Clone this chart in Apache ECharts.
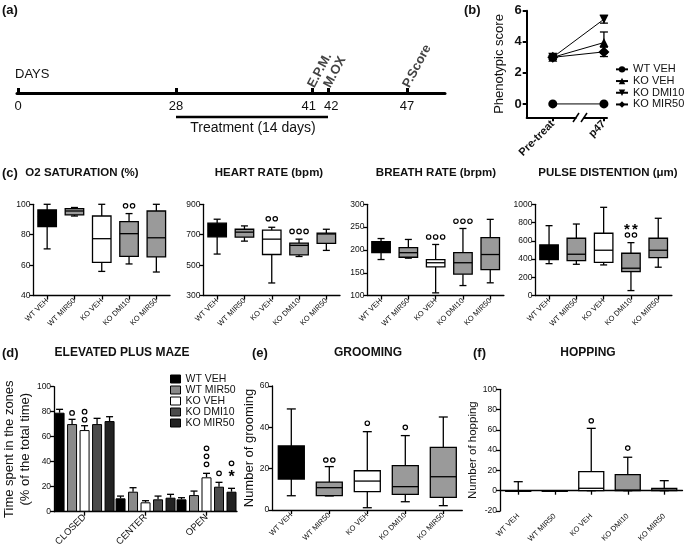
<!DOCTYPE html>
<html><head><meta charset="utf-8">
<script src="https://cdn.jsdelivr.net/npm/echarts@6/dist/echarts.min.js"></script>
<style>html,body{margin:0;padding:0;background:#fff}#c{width:685px;height:550px}</style>
</head><body><div id="c"></div>
<script>
// ================= DATA =================
const groups = ['WT VEH', 'WT MIR50', 'KO VEH', 'KO DMI10', 'KO MIR50'];

// (a) timeline
const timelineDays = [0, 28, 41, 42, 47];
const timelineEvents = ['E.P.M.', 'M.OX', 'P.Score'];
const timelineEventDays = [41, 42, 47];
const treatmentDays = [28, 42];
const treatmentText = 'Treatment (14 days)';

// (b) phenotypic score
const phenoTimes = ['Pre-treat', 'p47'];
const phenoGroups = ['WT VEH', 'KO VEH', 'KO DMI10', 'KO MIR50'];
const phenoWTVEH = [0, 0];
const phenoKOVEH = [3, 3.95];
const phenoKODMI10 = [3, 5.45];
const phenoKOMIR50 = [3, 3.35];
const phenoSemWTVEH = [0, 0];
const phenoSemKOVEH = [0.12, 0.68];
const phenoSemKODMI10 = [0.12, 0.25];
const phenoSemKOMIR50 = [0.12, 0.3];

// (c) box plots: [min, q1, median, q3, max] per group
const o2Stats = [[70.7, 85.3, 92, 96.3, 100], [92.3, 93, 95.6, 97.2, 97.9], [55.9, 61.9, 77.4, 92.3, 100], [60.8, 65.8, 80.7, 88.6, 93.9], [55.5, 65.4, 78, 95.6, 100]];
const heartStats = [[573, 686, 730, 776, 802], [658, 684, 717, 736, 758], [383, 570, 671, 730, 749], [557, 568, 630, 645, 671], [597, 643, 705, 711, 736]];
const breathStats = [[179, 194, 205, 218, 225], [182, 184, 194, 205, 223], [106, 163, 172, 179, 212], [122, 147, 172, 194, 247], [128, 157, 190, 227, 267]];
const pulseStats = [[350, 394, 460, 555, 766], [343, 383, 453, 628, 784], [336, 365, 497, 683, 967], [55, 263, 300, 464, 580], [311, 416, 497, 628, 847]];
// significance marks: [groupIndex, value, count]
const o2Sig = [[3, 99, 2]];
const heartSig = [[2, 805, 2], [3, 722, 3]];
const breathSig = [[2, 228.5, 3], [3, 263, 3]];
const pulseSig = [[3, 664, 2]];
const pulseStars = [[3, 755, 2]];

// (d) elevated plus maze: mean and SEM per zone [CLOSED, CENTER, OPEN]
const epmZones = ['CLOSED', 'CENTER', 'OPEN'];
const epmWTVEH = [79.2, 10.7, 9.9];
const epmWTMIR50 = [70.1, 16, 13.3];
const epmKOVEH = [65.3, 7.5, 27.5];
const epmKODMI10 = [70.1, 9.9, 20];
const epmKOMIR50 = [72.5, 11.2, 16];
const epmSemWTVEH = [2.7, 1.8, 1.3];
const epmSemWTMIR50 = [3.8, 3.2, 3.2];
const epmSemKOVEH = [3.5, 1.3, 3.2];
const epmSemKODMI10 = [4.6, 2.6, 3.5];
const epmSemKOMIR50 = [3.5, 2.7, 2.7];
// [zoneIndex, groupIndex, value, count]
const epmCircles = [[0, 1, 79, 1], [0, 2, 80, 2], [2, 2, 50.7, 3], [2, 3, 30.7, 1], [2, 4, 38.7, 1]];
const epmStars = [[2, 4, 30, 1]];

// (e) grooming, (f) hopping
const groomStats = [[6.9, 15, 23, 31, 48.9], [6.8, 7, 10.8, 13.5, 21], [1.1, 8.9, 14, 19, 37.9], [4, 7.6, 11.3, 21.5, 36], [2.1, 6.1, 16.1, 30.3, 45]];
const hopStats = [[0, 0, 0, 0, 8.9], [0, 0, 0, 0, 0], [0, 0, 2.4, 18.8, 61.5], [0, 0, 0.7, 15.8, 33], [0, 0, 0.5, 2.3, 9.9]];
const groomSig = [[1, 24.2, 2], [2, 42, 1], [3, 40, 1]];
const hopSig = [[2, 69, 1], [3, 42, 1]];

// ================= STYLE / LAYOUT =================
const FONT = '"Liberation Sans", Arial, sans-serif';
const boxFill = ['#000000', '#9a9a9a', '#ffffff', '#9a9a9a', '#9a9a9a'];
const barFill = ['#000000', '#8a8a8a', '#ffffff', '#4b4b4b', '#222222'];
// schematic (non-linear) placement of the timeline ticks, px from axis start
const TL_PX = {0: 1, 28: 159, 41: 295, 42: 311, 47: 390};
const tl = d => TL_PX[d];

const chart = echarts.init(document.getElementById('c'), null, {renderer: 'canvas'});

const axLine = {show: true, lineStyle: {color: '#000', width: 1.3}};
const axTick = {show: true, length: 4, lineStyle: {color: '#000', width: 1.3}};
const plain = v => String(v);

function boxItem(boxW, capW) {
  return function (params, api) {
    const c = api.value(0);
    const p = [1, 2, 3, 4, 5].map(i => api.coord([c, api.value(i)]));
    const x = p[0][0];
    const y = p.map(q => q[1]);
    const st = {stroke: '#000', lineWidth: 1.3};
    return {type: 'group', children: [
      {type: 'line', shape: {x1: x, y1: y[3], x2: x, y2: y[4]}, style: st},
      {type: 'line', shape: {x1: x - capW / 2, y1: y[4], x2: x + capW / 2, y2: y[4]}, style: st},
      {type: 'line', shape: {x1: x, y1: y[1], x2: x, y2: y[0]}, style: st},
      {type: 'line', shape: {x1: x - capW / 2, y1: y[0], x2: x + capW / 2, y2: y[0]}, style: st},
      {type: 'rect', shape: {x: x - boxW / 2, y: y[3], width: boxW, height: Math.max(y[1] - y[3], 0.6)}, style: {fill: boxFill[c], stroke: '#000', lineWidth: 1.3}},
      {type: 'line', shape: {x1: x - boxW / 2, y1: y[2], x2: x + boxW / 2, y2: y[2]}, style: st}
    ]};
  };
}
function sigItem(params, api) {
  const c = api.value(0), v = api.value(1), n = api.value(2);
  const p = api.coord([c, v]);
  const ch = [];
  for (let k = 0; k < n; k++) {
    ch.push({type: 'circle', shape: {cx: p[0] + (k - (n - 1) / 2) * 7, cy: p[1], r: 2.2}, style: {fill: '#fff', stroke: '#000', lineWidth: 1.2}});
  }
  return {type: 'group', children: ch};
}
function starItem(params, api) {
  const c = api.value(0), v = api.value(1), n = api.value(2);
  const p = api.coord([c, v]);
  const ch = [];
  for (let k = 0; k < n; k++) {
    ch.push({type: 'text', x: p[0] + (k - (n - 1) / 2) * 8, y: p[1] + 3, style: {text: '*', fontSize: 15, fontWeight: 'bold', fontFamily: FONT, fill: '#000', align: 'center', verticalAlign: 'middle'}});
  }
  return {type: 'group', children: ch};
}
const BAR_PITCH = 12.5;
function epmErrItem(params, api) {
  const c = api.value(0), s = api.value(1), m = api.value(2), e = api.value(3);
  const p1 = api.coord([c, m]), p2 = api.coord([c, m + e]);
  const x = p1[0] + (s - 2) * BAR_PITCH;
  const st = {stroke: '#000', lineWidth: 1.3};
  return {type: 'group', children: [
    {type: 'line', shape: {x1: x, y1: p1[1], x2: x, y2: p2[1]}, style: st},
    {type: 'line', shape: {x1: x - 3.5, y1: p2[1], x2: x + 3.5, y2: p2[1]}, style: st}
  ]};
}
function epmSigItem(params, api) {
  const c = api.value(0), s = api.value(1), v = api.value(2), n = api.value(3);
  const p = api.coord([c, v]);
  const x = p[0] + (s - 2) * BAR_PITCH;
  const ch = [];
  for (let k = 0; k < n; k++) ch.push({type: 'circle', shape: {cx: x, cy: p[1] + k * 8, r: 2.3}, style: {fill: '#fff', stroke: '#000', lineWidth: 1.2}});
  return {type: 'group', children: ch};
}
function epmStarItem(params, api) {
  const c = api.value(0), s = api.value(1), v = api.value(2);
  const p = api.coord([c, v]);
  const x = p[0] + (s - 2) * BAR_PITCH;
  return {type: 'text', x: x, y: p[1] + 3, style: {text: '*', fontSize: 16, fontWeight: 'bold', fontFamily: FONT, fill: '#000', align: 'center', verticalAlign: 'middle'}};
}
function phenoErrItem(params, api) {
  const x = api.value(0), y = api.value(1), e = api.value(2);
  const a = api.coord([x, y + e]), b = api.coord([x, y - e]);
  const st = {stroke: '#000', lineWidth: 1.3};
  return {type: 'group', children: [
    {type: 'line', shape: {x1: a[0], y1: a[1], x2: b[0], y2: b[1]}, style: st},
    {type: 'line', shape: {x1: a[0] - 4, y1: a[1], x2: a[0] + 4, y2: a[1]}, style: st},
    {type: 'line', shape: {x1: b[0] - 4, y1: b[1], x2: b[0] + 4, y2: b[1]}, style: st}
  ]};
}
const boxData = stats => stats.map((s, i) => [i, ...s]);

// ----- grids -----
const grids = [
  {left: 17, top: 27, width: 428, height: 66},           // 0 timeline (axis at y=93)
  {left: 526.7, top: 10.7, width: 80.3, height: 106.6},  // 1 pheno
  {left: 33.5, top: 204.3, width: 136.5, height: 91.3},  // 2 O2
  {left: 203.5, top: 204.3, width: 136.5, height: 91.3}, // 3 heart
  {left: 367.4, top: 204.3, width: 136.5, height: 91.3}, // 4 breath
  {left: 535.4, top: 204.3, width: 136.5, height: 91.3}, // 5 pulse
  {left: 40, top: 386.7, width: 197, height: 125},       // 6 EPM
  {left: 272.3, top: 386, width: 190, height: 124},      // 7 grooming
  {left: 500, top: 389.3, width: 182.5, height: 121.7}   // 8 hopping
];

const catX = (gi, data, fs, extra) => Object.assign({
  type: 'category', gridIndex: gi, data: data, boundaryGap: true,
  axisLine: axLine, axisTick: Object.assign({}, axTick, {alignWithLabel: true}),
  axisLabel: {rotate: 45, fontSize: fs, color: '#111', margin: 4, fontFamily: FONT, interval: 0},
  splitLine: {show: false}
}, extra || {});
const valY = (gi, min, max, interval, fs, extra) => Object.assign({
  type: 'value', gridIndex: gi, min: min, max: max, interval: interval,
  axisLine: axLine, axisTick: axTick,
  axisLabel: {fontSize: fs, color: '#111', margin: 3, fontFamily: FONT, formatter: plain},
  splitLine: {show: false}
}, extra || {});

const tlTickVals = timelineDays.map(tl);
const tlLabel = v => {
  const d = timelineDays[tlTickVals.indexOf(v)];
  return d === 41 ? '41\u2002' : d === 42 ? '\u200242' : String(d);
};
const xAxes = [
  {type: 'value', gridIndex: 0, min: 0, max: 428, position: 'bottom',
    axisLine: {show: true, onZero: false, lineStyle: {color: '#000', width: 3}},
    axisTick: {show: true, inside: true, length: 5, customValues: tlTickVals, lineStyle: {color: '#000', width: 3}},
    axisLabel: {customValues: tlTickVals, fontSize: 13, color: '#111', margin: 7, fontFamily: FONT, formatter: tlLabel},
    splitLine: {show: false}},
  {type: 'value', gridIndex: 1, min: -0.51, max: 1.06,
    axisLine: {show: true, onZero: false, lineStyle: {color: '#000', width: 2}},
    axisTick: {show: true, length: 4, customValues: [0, 1], lineStyle: {color: '#000', width: 2}},
    axisLabel: {customValues: [0, 1], rotate: 45, fontSize: 11, fontWeight: 'bold', color: '#111', margin: 5, fontFamily: FONT,
      formatter: v => phenoTimes[v]},
    splitLine: {show: false}},
  catX(2, groups, 7.5), catX(3, groups, 7.5), catX(4, groups, 7.5), catX(5, groups, 7.5),
  catX(6, epmZones, 9.5),
  catX(7, groups, 7.5), catX(8, groups, 7.5)
];
const yAxes = [
  {type: 'value', gridIndex: 0, min: 0, max: 1, show: false},
  {type: 'value', gridIndex: 1, min: -0.86, max: 6,
    axisLine: {show: true, onZero: false, lineStyle: {color: '#000', width: 2}},
    axisTick: {show: true, length: 4, customValues: [0, 2, 4, 6], lineStyle: {color: '#000', width: 2}},
    axisLabel: {customValues: [0, 2, 4, 6], fontSize: 13, fontWeight: 'bold', color: '#111', margin: 5, fontFamily: FONT},
    splitLine: {show: false},
    name: 'Phenotypic score', nameLocation: 'middle', nameGap: 21, nameTextStyle: {fontSize: 13, color: '#111', fontFamily: FONT}},
  valY(2, 40, 100, 20, 8.5), valY(3, 300, 900, 200, 8.5), valY(4, 100, 300, 50, 8.5), valY(5, 0, 1000, 200, 8.5),
  valY(6, 0, 100, 20, 8.5, {name: 'Time spent in the zones\n(% of the total time)', nameLocation: 'middle', nameGap: 3,
    nameTextStyle: {fontSize: 13, lineHeight: 16, color: '#111', fontFamily: FONT}}),
  valY(7, 0, 60, 20, 8.5, {name: 'Number of grooming', nameLocation: 'middle', nameGap: 9,
    nameTextStyle: {fontSize: 13, color: '#111', fontFamily: FONT}}),
  valY(8, -20, 100, 20, 8.5, {name: 'Number of hopping', nameLocation: 'middle', nameGap: 8,
    nameTextStyle: {fontSize: 11.5, color: '#111', fontFamily: FONT}})
];

const series = [];
// (a) timeline treatment line and event labels
series.push({type: 'line', xAxisIndex: 0, yAxisIndex: 0, symbol: 'none', silent: true, clip: false,
  lineStyle: {color: '#000', width: 2.5},
  data: treatmentDays.map(d => [tl(d), -0.364])});
series.push({type: 'scatter', xAxisIndex: 0, yAxisIndex: 0, symbolSize: 0, silent: true, clip: false,
  data: timelineEventDays.map((d, i) => [tl(d), 0.12, timelineEvents[i]]),
  label: {show: true, position: [0, 0], formatter: p => p.value[2], rotate: 62, align: 'left', verticalAlign: 'middle',
    fontSize: 13, fontWeight: 'bold', color: '#111', fontFamily: FONT, offset: [-2, 0]}});

// (b) phenotypic score
const phenoVals = [phenoWTVEH, phenoKOVEH, phenoKODMI10, phenoKOMIR50];
const phenoSems = [phenoSemWTVEH, phenoSemKOVEH, phenoSemKODMI10, phenoSemKOMIR50];
const phenoSym = [['circle', 9, 0], ['triangle', 9, 0], ['triangle', 9, 180], ['diamond', 11, 0]];
const errData = [];
phenoVals.forEach((vals, gi) => vals.forEach((v, t) => { if (phenoSems[gi][t] > 0) errData.push([t, v, phenoSems[gi][t]]); }));
series.push({type: 'custom', xAxisIndex: 1, yAxisIndex: 1, renderItem: phenoErrItem, data: errData, encode: {x: 0, y: 1}, z: 1});
phenoGroups.forEach((g, gi) => {
  series.push({type: 'line', name: 'b:' + g, xAxisIndex: 1, yAxisIndex: 1, z: 3,
    symbol: phenoSym[gi][0], symbolSize: phenoSym[gi][1], symbolRotate: phenoSym[gi][2],
    itemStyle: {color: '#000'}, lineStyle: {color: '#000', width: 1},
    data: phenoVals[gi].map((v, t) => [t, v])});
});

// (c),(e),(f) box plots
const boxPanels = [
  [2, o2Stats, o2Sig, 18.5, 7], [3, heartStats, heartSig, 18.5, 7], [4, breathStats, breathSig, 18.5, 7],
  [5, pulseStats, pulseSig, 18.5, 7], [7, groomStats, groomSig, 26, 9], [8, hopStats, hopSig, 25, 9]
];
boxPanels.forEach(([ax, stats, sig, bw, cw]) => {
  series.push({type: 'custom', xAxisIndex: ax, yAxisIndex: ax, renderItem: boxItem(bw, cw), data: boxData(stats), encode: {x: 0, y: [1, 2, 3, 4, 5]}, clip: false});
  series.push({type: 'custom', xAxisIndex: ax, yAxisIndex: ax, renderItem: sigItem, data: sig, encode: {x: 0, y: 1}, clip: false});
});
series.push({type: 'custom', xAxisIndex: 5, yAxisIndex: 5, renderItem: starItem, data: pulseStars, encode: {x: 0, y: 1}, clip: false});

// (d) EPM bars
const epmMeans = [epmWTVEH, epmWTMIR50, epmKOVEH, epmKODMI10, epmKOMIR50];
const epmSems = [epmSemWTVEH, epmSemWTMIR50, epmSemKOVEH, epmSemKODMI10, epmSemKOMIR50];
groups.forEach((g, gi) => {
  series.push({type: 'bar', name: g, xAxisIndex: 6, yAxisIndex: 6, barWidth: 10, barGap: '25%',
    itemStyle: {color: barFill[gi], borderColor: '#000', borderWidth: 1}, data: epmMeans[gi]});
});
const epmErrData = [];
epmMeans.forEach((m, gi) => m.forEach((v, z) => epmErrData.push([z, gi, v, epmSems[gi][z]])));
series.push({type: 'custom', xAxisIndex: 6, yAxisIndex: 6, renderItem: epmErrItem, data: epmErrData, encode: {x: 0, y: 2}, z: 3});
series.push({type: 'custom', xAxisIndex: 6, yAxisIndex: 6, renderItem: epmSigItem, data: epmCircles, encode: {x: 0, y: 2}, z: 3});
series.push({type: 'custom', xAxisIndex: 6, yAxisIndex: 6, renderItem: epmStarItem, data: epmStars, encode: {x: 0, y: 2}, z: 3});

// ----- texts -----
const txt = (x, y, t, fs, bold, align) => ({type: 'text', x: x, y: y, silent: true,
  style: {text: t, fontSize: fs, fontWeight: bold ? 'bold' : 'normal', fontFamily: FONT, fill: '#111', align: align || 'left', verticalAlign: 'middle'}});
const graphics = [
  txt(2, 10, '(a)', 13, true), txt(464, 10, '(b)', 13, true),
  txt(2, 173, '(c)', 13, true), txt(2, 353, '(d)', 13, true), txt(252, 353, '(e)', 13, true), txt(473, 353, '(f)', 13, true),
  txt(15, 74, 'DAYS', 13, false),
  txt(253, 128, treatmentText, 14, false, 'center'),
  txt(82, 173, 'O2 SATURATION (%)', 11.5, true, 'center'),
  txt(269, 173, 'HEART RATE (bpm)', 11.5, true, 'center'),
  txt(436, 173, 'BREATH RATE (brpm)', 11.5, true, 'center'),
  txt(608, 173, 'PULSE DISTENTION (μm)', 11.5, true, 'center'),
  txt(122, 353, 'ELEVATED PLUS MAZE', 12, true, 'center'),
  txt(368, 353, 'GROOMING', 12, true, 'center'),
  txt(588, 353, 'HOPPING', 12, true, 'center'),
  // axis break marks on (b)
  {type: 'rect', shape: {x: 576.5, y: 114, width: 7, height: 7}, style: {fill: '#fff'}, z: 100},
  {type: 'line', shape: {x1: 573, y1: 122, x2: 579, y2: 113}, style: {stroke: '#000', lineWidth: 1.5}, z: 101},
  {type: 'line', shape: {x1: 581, y1: 122, x2: 587, y2: 113}, style: {stroke: '#000', lineWidth: 1.5}, z: 101}
];

chart.setOption({
  animation: false,
  backgroundColor: '#fff',
  textStyle: {fontFamily: FONT},
  grid: grids,
  xAxis: xAxes,
  yAxis: yAxes,
  legend: [
    {data: phenoGroups.map(g => 'b:' + g), formatter: n => n.slice(2), orient: 'vertical', left: 615, top: 63.5, padding: 0,
      itemWidth: 12, itemHeight: 8, itemGap: 0, selectedMode: false,
      textStyle: {fontSize: 11, lineHeight: 11.7, color: '#111', fontFamily: FONT}},
    {data: groups, orient: 'vertical', left: 170, top: 373.5, padding: 0, icon: 'rect', itemWidth: 10, itemHeight: 8, itemGap: 0, selectedMode: false,
      itemStyle: {borderColor: '#000', borderWidth: 1},
      textStyle: {fontSize: 10.5, lineHeight: 10.6, color: '#111', fontFamily: FONT}}
  ],
  series: series,
  graphic: graphics
});
</script></body></html>
